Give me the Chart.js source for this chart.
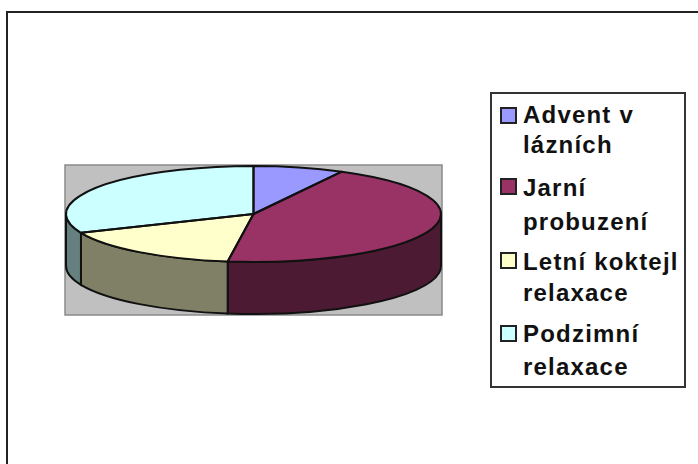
<!DOCTYPE html>
<html>
<head>
<meta charset="utf-8">
<title>Pie chart</title>
<script src="https://cdn.jsdelivr.net/npm/chart.js@4"></script>
<style>
  html, body { margin: 0; padding: 0; background: #fff; }
  #page { position: relative; width: 698px; height: 464px; overflow: hidden; filter: blur(0.5px); }
  #frame { position: absolute; left: 6px; top: 11px; width: 700px; height: 460px; border-left: 2px solid #222; border-top: 2px solid #222; }
  canvas { position: absolute; left: 0; top: 0; }
  #legend { position: absolute; left: 490px; top: 92px; width: 192px; height: 292px; border: 2px solid #333; background: #fff; }
  .swatch { position: absolute; left: 8px; width: 13px; height: 13px; border: 2px solid #222; }
  .line { position: absolute; left: 31px; font: bold 24px "Liberation Sans", Arial, sans-serif; letter-spacing: 1.2px; line-height: 24px; color: #111; white-space: nowrap; }
</style>
</head>
<body>
<div id="page">
  <div id="frame"></div>
  <canvas id="pieChart" width="698" height="464"></canvas>
  <div id="legend"></div>
</div>
<script>
const categories = ["Advent v\nlázních", "Jarní\nprobuzení", "Letní koktejl\nrelaxace", "Podzimní\nrelaxace"];
const seriesValues = [7.8, 44.4, 16.4, 31.4];
const topColors = ["#9999ff", "#993366", "#ffffcc", "#ccffff"];
const sideColors = ["#4d4d80", "#4d1a33", "#808066", "#668080"];

// legend rows, top of each text line inside the legend box
const lineTops = [[9, 39], [82, 116], [156, 187], [228, 261]];
const swatchTops = [13, 84, 158, 231];

const SQUASH = 0.256;
const PIE_Y = 214;
const DEPTH = 52;

function flatten(ctx, arc) {
  ctx.translate(0, PIE_Y);
  ctx.scale(1, SQUASH);
  ctx.translate(0, -arc.y);
}

function sidePath(ctx, arc, from, to) {
  const ry = arc.outerRadius * SQUASH;
  ctx.beginPath();
  ctx.ellipse(arc.x, PIE_Y, arc.outerRadius, ry, 0, from, to);
  ctx.ellipse(arc.x, PIE_Y + DEPTH, arc.outerRadius, ry, 0, to, from, true);
  ctx.closePath();
}

const pie3d = {
  id: "pie3d",
  beforeDatasetsDraw(chart) {
    const ctx = chart.ctx;
    const arcs = chart.getDatasetMeta(0).data;
    const first = arcs[0];
    const r = first.outerRadius;

    // grey plot area behind the pie
    ctx.save();
    ctx.fillStyle = "#c0c0c0";
    ctx.strokeStyle = "#8a8a8a";
    ctx.lineWidth = 1.5;
    ctx.fillRect(first.x - r - 1, PIE_Y - r * SQUASH - 1, r * 2 + 2, r * SQUASH * 2 + DEPTH + 2);
    ctx.strokeRect(first.x - r - 1, PIE_Y - r * SQUASH - 1, r * 2 + 2, r * SQUASH * 2 + DEPTH + 2);

    // only the front half of the rim can be seen
    arcs.forEach((arc, i) => {
      const from = Math.max(arc.startAngle, 0);
      const to = Math.min(arc.endAngle, Math.PI);
      if (to <= from) return;
      sidePath(ctx, arc, from, to);
      ctx.fillStyle = sideColors[i];
      ctx.fill();
      ctx.strokeStyle = "#111";
      ctx.lineWidth = 2;
      ctx.stroke();
    });
    ctx.restore();

    ctx.save();
    flatten(ctx, first);
  },
  afterDatasetsDraw(chart) {
    const ctx = chart.ctx;
    ctx.restore();

    // outlines go on after the squash so the line width stays even
    const arcs = chart.getDatasetMeta(0).data;
    ctx.save();
    ctx.strokeStyle = "#111";
    ctx.lineWidth = 2;
    ctx.lineJoin = "round";
    arcs.forEach((arc) => {
      ctx.beginPath();
      ctx.moveTo(arc.x, PIE_Y);
      ctx.ellipse(arc.x, PIE_Y, arc.outerRadius, arc.outerRadius * SQUASH, 0, arc.startAngle, arc.endAngle);
      ctx.closePath();
      ctx.stroke();
    });
    ctx.restore();
  },
};

function buildLegend() {
  const legendEl = document.getElementById("legend");
  categories.forEach((name, i) => {
    const swatch = document.createElement("div");
    swatch.className = "swatch";
    swatch.style.top = swatchTops[i] + "px";
    swatch.style.background = topColors[i];
    legendEl.appendChild(swatch);

    name.split("\n").forEach((text, j) => {
      const line = document.createElement("div");
      line.className = "line";
      line.style.top = lineTops[i][j] + "px";
      line.textContent = text;
      legendEl.appendChild(line);
    });
  });
}

function main() {
  buildLegend();
  new Chart(document.getElementById("pieChart").getContext("2d"), {
    type: "pie",
    data: {
      labels: categories,
      datasets: [
        {
          data: seriesValues,
          backgroundColor: topColors,
          borderWidth: 0,
        },
      ],
    },
    options: {
      responsive: false,
      animation: false,
      layout: { padding: { left: 66, right: 257, top: 44, bottom: 45 } },
      plugins: {
        legend: { display: false },
        tooltip: { enabled: false },
      },
    },
    plugins: [pie3d],
  });
}

document.addEventListener("DOMContentLoaded", main);
</script>
</body>
</html>
